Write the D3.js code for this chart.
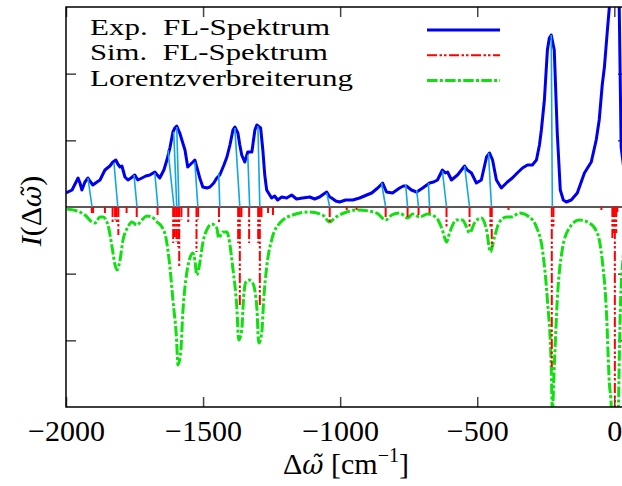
<!DOCTYPE html>
<html>
<head>
<meta charset="utf-8">
<title>FL-Spektrum</title>
<script src="https://cdn.jsdelivr.net/npm/d3@7"></script>
<style>
  body { margin: 0; background: #fff; }
  text { font-family: "Liberation Serif", "DejaVu Serif", serif; fill: #000; white-space: pre; }
</style>
</head>
<body>
<script>

var expX = [-2000,-1978,-1956,-1949,-1942,-1931,-1920,-1913,-1902,-1887,
  -1876,-1858,-1840,-1829,-1818,-1811,-1803,-1796,-1785,-1774,
  -1763,-1749,-1738,-1723,-1709,-1694,-1676,-1658,-1643,-1632,
  -1621,-1610,-1603,-1596,-1585,-1574,-1566,-1556,-1537,-1530,
  -1523,-1512,-1501,-1486,-1475,-1461,-1450,-1439,-1424,-1413,
  -1402,-1391,-1384,-1373,-1366,-1359,-1348,-1337,-1322,-1311,
  -1304,-1290,-1282,-1275,-1268,-1250,-1239,-1228,-1213,-1195,
  -1177,-1159,-1137,-1111,-1093,-1075,-1060,-1049,-1038,-1031,
  -1016,-1002,-980,-954,-929,-903,-885,-863,-845,-831,
  -809,-783,-769,-758,-740,-721,-699,-674,-659,-645,
  -627,-616,-608,-594,-572,-546,-536,-521,-503,-485,
  -466,-455,-444,-430,-412,-390,-372,-354,-335,-317,
  -299,-284,-273,-266,-255,-244,-237,-230,-219,-208,
  -197,-186,-175,-157,-135,-109,-84,-66,-55,-44,
  -36,-26,-18,-7,4,18,25,40];
var expY = [0.21,0.255,0.435,0.36,0.255,0.375,0.435,0.39,0.33,0.375,
  0.405,0.555,0.615,0.675,0.705,0.645,0.60,0.615,0.45,0.405,
  0.435,0.48,0.405,0.435,0.465,0.48,0.525,0.435,0.555,0.705,
  0.885,1.125,1.185,1.215,1.11,0.96,0.855,0.60,0.675,0.705,
  0.60,0.435,0.30,0.285,0.30,0.36,0.435,0.48,0.63,0.75,
  0.93,1.155,1.20,1.11,0.93,0.78,0.675,0.825,0.825,1.155,
  1.23,1.185,0.855,0.48,0.255,0.135,0.165,0.105,0.15,0.135,
  0.18,0.12,0.135,0.15,0.12,0.15,0.195,0.225,0.15,0.135,
  0.09,0.075,0.105,0.105,0.135,0.18,0.21,0.285,0.36,0.225,
  0.21,0.285,0.315,0.315,0.255,0.225,0.285,0.36,0.375,0.405,
  0.555,0.51,0.525,0.405,0.48,0.615,0.555,0.51,0.36,0.405,
  0.75,0.81,0.705,0.405,0.285,0.375,0.435,0.51,0.585,0.63,
  0.63,0.705,0.93,1.155,1.605,2.355,2.535,2.58,2.355,1.11,
  0.255,0.105,0.075,0.105,0.21,0.51,0.675,1.005,1.305,1.83,
  2.10,2.61,3.0,4.5,4.5,3.0,0.9,0.4];

// simulated stick spectrum (red), drawn downwards
var stickX = [-1906,-1901,-1858,-1830,-1821,-1815,-1809,-1779,-1742,-1666,
  -1609,-1603,-1597,-1591,-1587,-1579,-1554,-1524,-1518,-1442,
  -1372,-1366,-1360,-1332,-1299,-1293,-1287,-1263,-1245,-1038,
  -976,-940,-834,-754,-714,-674,-612,-528,-452,-447,
  -386,-228,-222,-47,-7,-2,2,7,11];
var stickY = [-0.09,-0.09,-0.09,-0.225,-0.195,-0.225,-0.42,-0.09,-0.15,-0.12,
  -0.54,-0.45,-0.525,-0.60,-0.915,-0.195,-0.225,-0.675,-0.195,-0.225,
  -0.54,-1.47,-0.15,-0.54,-0.54,-1.50,-0.15,-0.09,-0.12,-0.24,
  -0.045,-0.045,-0.165,-0.15,-0.12,-0.09,-0.30,-0.30,-0.315,-0.60,
  -0.045,-2.40,-0.30,-0.045,-0.465,-0.39,-3.2,-0.39,-0.075];

// Lorentz broadened simulation (green)
var lorX = [-1996,-1960,-1931,-1905,-1894,-1876,-1865,-1847,-1832,-1821,
  -1814,-1803,-1792,-1774,-1760,-1741,-1723,-1705,-1687,-1668,
  -1650,-1636,-1621,-1610,-1596,-1592,-1581,-1574,-1563,-1548,
  -1537,-1530,-1523,-1512,-1501,-1483,-1468,-1450,-1443,-1428,
  -1413,-1403,-1392,-1377,-1370,-1359,-1352,-1344,-1333,-1319,
  -1304,-1297,-1286,-1279,-1268,-1250,-1220,-1173,-1111,-1064,
  -1038,-1020,-976,-936,-867,-834,-812,-783,-754,-736,
  -710,-681,-648,-627,-612,-601,-576,-554,-539,-528,
  -510,-485,-466,-452,-437,-419,-393,-375,-346,-310,
  -284,-262,-244,-230,-226,-219,-208,-190,-164,-128,
  -91,-62,-44,-29,-18,-11,0,11,22,33,50];
var lorY = [-0.03,-0.06,-0.12,-0.225,-0.24,-0.15,-0.15,-0.27,-0.60,-0.87,
  -0.945,-0.795,-0.495,-0.30,-0.225,-0.27,-0.195,-0.135,-0.15,-0.225,
  -0.30,-0.45,-0.90,-1.395,-2.04,-2.37,-2.145,-1.59,-1.095,-0.765,
  -0.69,-0.795,-1.02,-0.84,-0.54,-0.315,-0.255,-0.315,-0.465,-0.375,
  -0.375,-0.54,-0.90,-1.50,-1.995,-1.845,-1.35,-1.125,-1.095,-1.14,
  -1.50,-2.04,-1.89,-1.395,-0.90,-0.495,-0.24,-0.12,-0.075,-0.12,
  -0.225,-0.165,-0.075,-0.045,-0.09,-0.195,-0.12,-0.09,-0.165,-0.105,
  -0.15,-0.105,-0.165,-0.345,-0.525,-0.39,-0.195,-0.195,-0.30,-0.39,
  -0.24,-0.165,-0.345,-0.675,-0.45,-0.225,-0.15,-0.15,-0.09,-0.15,
  -0.30,-0.645,-1.395,-2.40,-3.05,-2.40,-1.395,-0.645,-0.315,-0.195,
  -0.24,-0.39,-0.795,-1.545,-2.64,-3.0,-6,-4,-1.545,-0.72,-0.2];

// assignment lines: experimental peak -> simulated stick
var assignExpX = [-1920,-1825,-1752,-1676,-1628,-1607,-1596,-1530,-1443,-1384,-1337,-1300,-1049,-849,-761,-721,-678,-627,-546,-459,-230];
var assignExpY = [0.435,0.66,0.48,0.51,0.855,1.125,1.2,0.675,0.51,1.185,0.78,1.215,0.21,0.36,0.33,0.255,0.36,0.54,0.615,0.81,2.58];
var assignSimX = [-1905,-1811,-1741,-1665,-1606,-1596,-1588,-1519,-1439,-1366,-1330,-1293,-1038,-834,-754,-714,-674,-612,-528,-448,-226];

var xTicks = [-2000, -1500, -1000, -500, 0];
var yTicks = [-2, -1, 1, 2];
var legendLabels = ["Exp.  FL-Spektrum", "Sim.  FL-Spektrum", "Lorentzverbreiterung"];

var width = 622, height = 486;
// plot box (the right edge lies just outside the picture)
var pLeft = 66, pRight = 628, pTop = 7, pBottom = 407;

var svg = d3.select("body").append("svg")
    .attr("width", width)
    .attr("height", height);

var x = d3.scaleLinear().domain([-2000, 50]).range([pLeft, pRight]);
var y = d3.scaleLinear().domain([-3, 3]).range([pBottom, pTop]);

svg.append("clipPath").attr("id", "clip")
  .append("rect")
    .attr("x", pLeft).attr("y", pTop)
    .attr("width", pRight - pLeft).attr("height", pBottom - pTop);

// ticks, inward on all four sides
function tidy(g) {
  g.select(".domain").remove();
  g.selectAll(".tick line").attr("stroke", "#444").attr("stroke-width", 1.5);
}
svg.append("g")
    .attr("transform", "translate(0," + pBottom + ")")
    .call(d3.axisBottom(x).tickValues(xTicks).tickSize(-10).tickPadding(13).tickFormat(d3.format("d")))
    .call(tidy)
    .call(function(g) { g.selectAll("text").attr("font-size", 30).attr("font-family", "Liberation Serif"); });
svg.append("g")
    .attr("transform", "translate(0," + pTop + ")")
    .call(d3.axisTop(x).tickValues(xTicks).tickSize(-10).tickFormat(""))
    .call(tidy);
svg.append("g")
    .attr("transform", "translate(" + pLeft + ",0)")
    .call(d3.axisLeft(y).tickValues(yTicks).tickSize(-10).tickFormat(""))
    .call(tidy);
svg.append("g")
    .attr("transform", "translate(" + pRight + ",0)")
    .call(d3.axisRight(y).tickValues(yTicks).tickSize(-10).tickFormat(""))
    .call(tidy);

var plot = svg.append("g").attr("clip-path", "url(#clip)");

// zero line
plot.append("line")
    .attr("x1", pLeft).attr("x2", pRight)
    .attr("y1", y(0)).attr("y2", y(0))
    .attr("stroke", "#222").attr("stroke-width", 1.5);

// experimental spectrum
plot.append("path")
    .datum(d3.zip(expX, expY))
    .attr("fill", "none")
    .attr("stroke", "#0000f0")
    .attr("stroke-width", 3)
    .attr("stroke-linejoin", "round")
    .attr("d", d3.line().x(function(d) { return x(d[0]); }).y(function(d) { return y(d[1]); }));

// assignment lines
plot.selectAll(".assign")
    .data(d3.range(assignExpX.length))
  .enter().append("line")
    .attr("class", "assign")
    .attr("x1", function(i) { return x(assignExpX[i]); })
    .attr("y1", function(i) { return y(assignExpY[i]); })
    .attr("x2", function(i) { return x(assignSimX[i]); })
    .attr("y2", y(0))
    .attr("stroke", "#12a6e4")
    .attr("stroke-width", 1.6);

// lorentz curve
plot.append("path")
    .datum(d3.zip(lorX, lorY))
    .attr("fill", "none")
    .attr("stroke", "#10e010")
    .attr("stroke-width", 3)
    .attr("stroke-dasharray", "10.5,2.3,3,2.3")
    .attr("d", d3.line().curve(d3.curveMonotoneX)
      .x(function(d) { return x(d[0]); }).y(function(d) { return y(d[1]); }));

// stick spectrum
plot.selectAll(".stick")
    .data(d3.zip(stickX, stickY))
  .enter().append("line")
    .attr("class", "stick")
    .attr("x1", function(d) { return x(d[0]); })
    .attr("x2", function(d) { return x(d[0]); })
    .attr("y1", y(0))
    .attr("y2", function(d) { return y(d[1]); })
    .attr("stroke", "#ff0000")
    .attr("stroke-width", 2)
    .attr("stroke-dasharray", "10,2.5,2.5,2,2.5,2.5");

// frame
svg.append("rect")
    .attr("x", pLeft).attr("y", pTop)
    .attr("width", pRight - pLeft).attr("height", pBottom - pTop)
    .attr("fill", "none").attr("stroke", "#000").attr("stroke-width", 1.5);

// legend
var legendStyle = [
  { color: "#0000f0", width: 3, dash: null },
  { color: "#ff0000", width: 2, dash: "10,2.5,2.5,2,2.5,2.5" },
  { color: "#10e010", width: 3, dash: "10.5,2.3,3,2.3" }
];
var legendTextLen = [240, 238, 263];
var legend = svg.append("g");
legendLabels.forEach(function(label, i) {
  legend.append("text")
      .attr("x", 90).attr("y", 35 + i * 25.3)
      .attr("font-size", 24)
      .attr("textLength", legendTextLen[i])
      .attr("lengthAdjust", "spacingAndGlyphs")
      .text(label);
  legend.append("line")
      .attr("x1", 427).attr("x2", 500)
      .attr("y1", 30 + i * 25.3).attr("y2", 30 + i * 25.3)
      .attr("stroke", legendStyle[i].color)
      .attr("stroke-width", legendStyle[i].width)
      .attr("stroke-dasharray", legendStyle[i].dash);
});

// omega with combining tilde (DejaVu places the mark over the letter)
function omegaTilde(t) {
  t.append("tspan")
      .attr("font-family", "DejaVu Serif")
      .attr("font-style", "italic")
      .attr("font-size", 26)
      .text("\u03c9\u0303");
}

// x axis label
var xl = svg.append("text")
    .attr("x", 346).attr("y", 474)
    .attr("text-anchor", "middle")
    .attr("font-size", 30);
xl.append("tspan").text("\u0394");
omegaTilde(xl);
xl.append("tspan").text(" [cm");
xl.append("tspan").attr("font-size", 20).attr("dy", -12).text("\u22121");
xl.append("tspan").attr("dy", 12).text("]");

// y axis label
var yl = svg.append("text")
    .attr("transform", "translate(41,211) rotate(-90)")
    .attr("text-anchor", "middle")
    .attr("font-size", 30);
yl.append("tspan").attr("font-style", "italic").text("I");
yl.append("tspan").text("(\u0394");
omegaTilde(yl);
yl.append("tspan").text(")");

</script>
</body>
</html>
